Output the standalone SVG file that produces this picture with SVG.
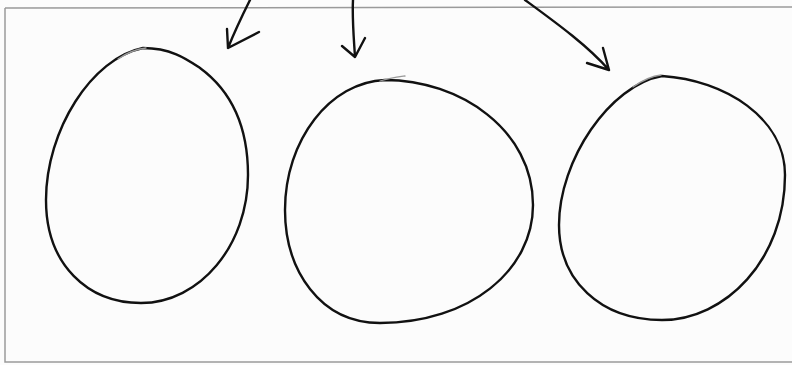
<svg xmlns="http://www.w3.org/2000/svg" width="792" height="365" viewBox="0 0 792 365">
<style>
.ink{fill:none;stroke:#111;stroke-width:2.4;stroke-linecap:round;stroke-linejoin:round}
.pencil{fill:none;stroke:#9a9a9a;stroke-width:1.3;stroke-linecap:round}
.frame{fill:none;stroke:#9a9a9a;stroke-width:1.5}
</style>
<rect x="0" y="0" width="792" height="365" fill="#fcfcfc"/>
<path class="frame" d="M5,8 L792,7 M5,8 L5,362 L792,362"/>
<g id="node1">
<path class="ink" d="M143,48 C172,48 188,60 200,68 C230,90 248,125 248,175 C248,245 200,303 141,303 C88,303 46,265 46,200 C46,130 92,58 143,48 Z"/>
<path class="pencil" d="M118,59 C128,52 137,49 146,48"/>
</g>
<g id="node2">
<path class="ink" d="M385,80 C460,80 533,130 533,205 C533,270 470,323 380,323 C320,323 285,270 285,210 C285,140 330,82 385,80 Z"/>
<path class="pencil" d="M380,81 C390,78 398,77 405,76"/>
</g>
<g id="node3">
<path class="ink" d="M662,76 C725,80 785,118 785,175 C785,260 725,320 662,320 C600,320 559,280 559,225 C559,160 610,85 662,76 Z"/>
<path class="pencil" d="M633,87 C643,80 652,76 661,75"/>
</g>
<g id="connectors">
<path class="ink" d="M250,0 C241,18 234,33 228,48 M227,29 L228,48 L259,32"/>
<path class="ink" d="M353,0 C352,20 354,40 355,57 M342,46 L355,57 L365,38"/>
<path class="ink" d="M525,0 C555,22 587,45 609,70 M587,63 L609,70 L603,48"/>
</g>
</svg>
